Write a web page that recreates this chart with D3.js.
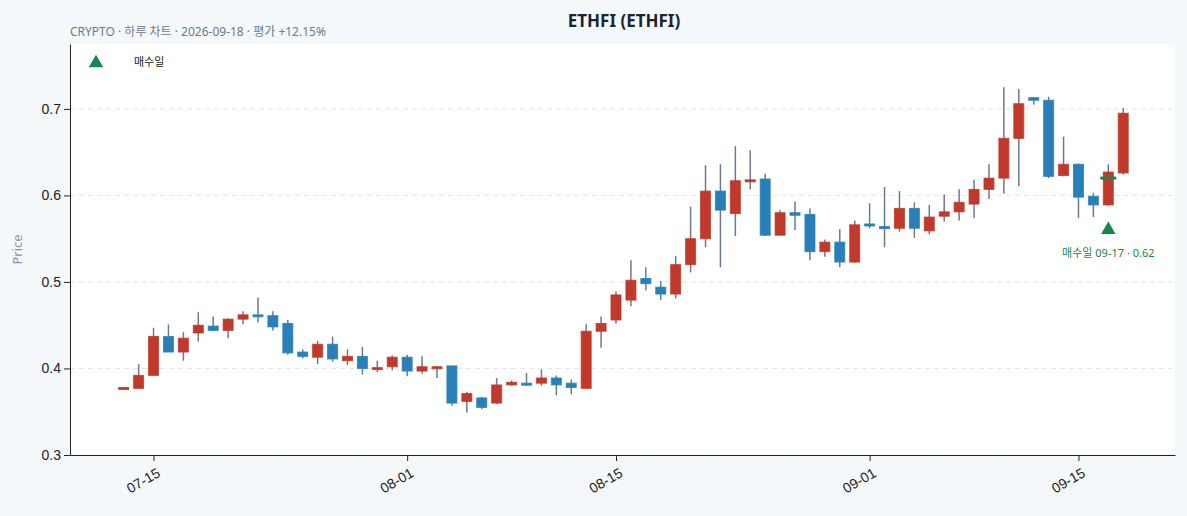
<!DOCTYPE html>
<html><head><meta charset="utf-8">
<script src="https://cdn.jsdelivr.net/npm/d3@7"></script>
<style>
body{margin:0;background:#f5f8fb;font-family:"Noto Sans","Noto Sans CJK KR",sans-serif;}
.axis text{font-size:14px;fill:#222;}
.axis path,.axis line{stroke:#222;}
</style></head><body>
<svg id="chart" width="1187" height="516"></svg>
<script>
// daily candles 07-13 .. 09-18 (open, high, low, close)
var startDay = "2026-07-13";
var opens  = [.377,.377,.392,.437,.419,.441,.449,.444,.457,.462,.461,.452,.419,.413,.428,.409,.414,.400,.402,.413,.397,.401,.403,.362,.366,.360,.381,.383,.383,.389,.383,.377,.443,.456,.479,.504,.494,.486,.520,.550,.605,.579,.617,.619,.554,.580,.578,.535,.546,.523,.567,.564,.562,.585,.559,.576,.581,.590,.607,.620,.666,.713,.710,.623,.636,.599,.589,.626];
var highs  = [.378,.405,.447,.451,.442,.465,.460,.458,.466,.482,.466,.456,.422,.432,.437,.422,.425,.409,.415,.416,.414,.403,.403,.373,.367,.389,.386,.395,.399,.392,.387,.451,.460,.489,.525,.517,.501,.530,.587,.635,.636,.657,.652,.625,.583,.593,.585,.549,.561,.571,.591,.610,.605,.592,.589,.601,.607,.618,.636,.725,.723,.713,.714,.668,.637,.603,.636,.701];
var lows   = [.377,.377,.392,.419,.409,.431,.443,.435,.451,.453,.444,.416,.412,.405,.408,.404,.393,.396,.398,.391,.394,.389,.357,.349,.353,.359,.380,.380,.380,.369,.370,.377,.424,.452,.472,.490,.479,.481,.511,.540,.517,.553,.607,.553,.554,.560,.525,.529,.517,.522,.562,.540,.558,.551,.555,.570,.571,.574,.596,.602,.611,.705,.620,.622,.574,.575,.588,.624];
var closes = [.378,.392,.437,.419,.435,.450,.444,.457,.462,.461,.448,.418,.414,.428,.411,.414,.400,.401,.413,.397,.402,.402,.360,.371,.355,.381,.384,.382,.389,.381,.378,.443,.452,.485,.502,.498,.486,.520,.550,.605,.583,.617,.618,.554,.580,.577,.535,.546,.523,.566,.565,.563,.585,.562,.575,.581,.592,.607,.620,.666,.706,.710,.622,.636,.598,.589,.627,.695];
var yTicks = [0.3, 0.4, 0.5, 0.6, 0.7];
var xTicks = ["2026-07-15", "2026-08-01", "2026-08-15", "2026-09-01", "2026-09-15"];
var buyDate = "2026-09-17", buyPrice = 0.62;

var parse = d3.utcParse("%Y-%m-%d");
var t0 = parse(startDay);
var data = opens.map(function(o, i) {
  return {date: d3.utcDay.offset(t0, i), o: o, h: highs[i], l: lows[i], c: closes[i]};
});

var margin = {top: 44, right: 12, bottom: 61, left: 70};
var width = 1187 - margin.left - margin.right,
    height = 516 - margin.top - margin.bottom;

var svg = d3.select("#chart");
svg.append("rect").attr("x", margin.left).attr("y", margin.top)
  .attr("width", width).attr("height", height).attr("fill", "#fff");
var g = svg.append("g").attr("transform", "translate(" + margin.left + "," + margin.top + ")");

var x = d3.scaleUtc()
  .domain([new Date(Date.UTC(2026, 6, 9, 9, 36)), new Date(Date.UTC(2026, 8, 21, 11, 17))])
  .range([0, width]);
var y = d3.scaleLinear().domain([0.3, 0.775]).range([height, 0]);

// grid
g.selectAll(".grid").data(yTicks).enter().append("line")
  .attr("x1", 0).attr("x2", width)
  .attr("y1", function(d) { return y(d); }).attr("y2", function(d) { return y(d); })
  .attr("stroke", "#e6e6e6").attr("stroke-dasharray", "5,4");

var up = "#c0392b", down = "#2980b9";
var bw = 10;
var candles = g.selectAll(".candle").data(data).enter().append("g");
candles.append("line")
  .attr("x1", function(d) { return x(d.date); }).attr("x2", function(d) { return x(d.date); })
  .attr("y1", function(d) { return y(d.h); }).attr("y2", function(d) { return y(d.l); })
  .attr("stroke", "#6b7a8c").attr("stroke-width", 1.5);
candles.append("rect")
  .attr("x", function(d) { return x(d.date) - bw / 2; })
  .attr("width", bw)
  .attr("y", function(d) { return y(Math.max(d.o, d.c)); })
  .attr("height", function(d) { return Math.max(2, Math.abs(y(d.o) - y(d.c))); })
  .attr("fill", function(d) { return d.c >= d.o ? up : down; })
  .attr("stroke", function(d) { return d.c >= d.o ? up : down; })
  .attr("stroke-opacity", 0.8).attr("stroke-width", 1);

// buy marker
var bx = x(parse(buyDate));
var buy = data.find(function(d) { return +d.date === +parse(buyDate); });
g.append("line").attr("x1", bx - 8).attr("x2", bx + 8)
  .attr("y1", y(buyPrice)).attr("y2", y(buyPrice))
  .attr("stroke", "#138a4a").attr("stroke-width", 3);
g.append("path").attr("d", d3.symbol(d3.symbolTriangle, 90)())
  .attr("transform", "translate(" + bx + "," + (y(buy.l) + 24) + ")")
  .attr("fill", "#138a4a");
g.append("text").attr("x", bx).attr("y", y(buy.l) + 51)
  .attr("text-anchor", "middle").attr("font-size", 11).attr("fill", "#138a4a")
  .text("매수일 09-17 · 0.62");

// axes
g.append("g").attr("class", "axis")
  .call(d3.axisLeft(y).tickValues(yTicks).tickFormat(d3.format(".1f")).tickSizeOuter(0));
g.append("g").attr("class", "axis").attr("transform", "translate(0," + height + ")")
  .call(d3.axisBottom(x).tickValues(xTicks.map(parse)).tickFormat(d3.utcFormat("%m-%d")).tickSizeOuter(0))
  .selectAll("text")
  .attr("text-anchor", "end").attr("dx", "-0.3em").attr("dy", "0.9em")
  .attr("transform", "rotate(-30)");

// labels
svg.append("text").attr("x", 22).attr("y", margin.top + height / 2)
  .attr("transform", "rotate(-90,22," + (margin.top + height / 2) + ")")
  .attr("text-anchor", "middle").attr("font-size", 13).attr("fill", "#8795a5").text("Price");
svg.append("text").attr("x", 624).attr("y", 27).attr("text-anchor", "middle")
  .attr("font-size", 17).attr("font-weight", "bold").attr("fill", "#1b2433").text("ETHFI (ETHFI)");
svg.append("text").attr("x", 70).attr("y", 36).attr("font-size", 12).attr("fill", "#6b7a8c")
  .text("CRYPTO · 하루 차트 · 2026-09-18 · 평가 +12.15%");

// legend
svg.append("path").attr("d", d3.symbol(d3.symbolTriangle, 90)())
  .attr("transform", "translate(96,63)").attr("fill", "#138a4a");
svg.append("text").attr("x", 134).attr("y", 66).attr("font-size", 11).attr("fill", "#222").text("매수일");
</script>
</body></html>
